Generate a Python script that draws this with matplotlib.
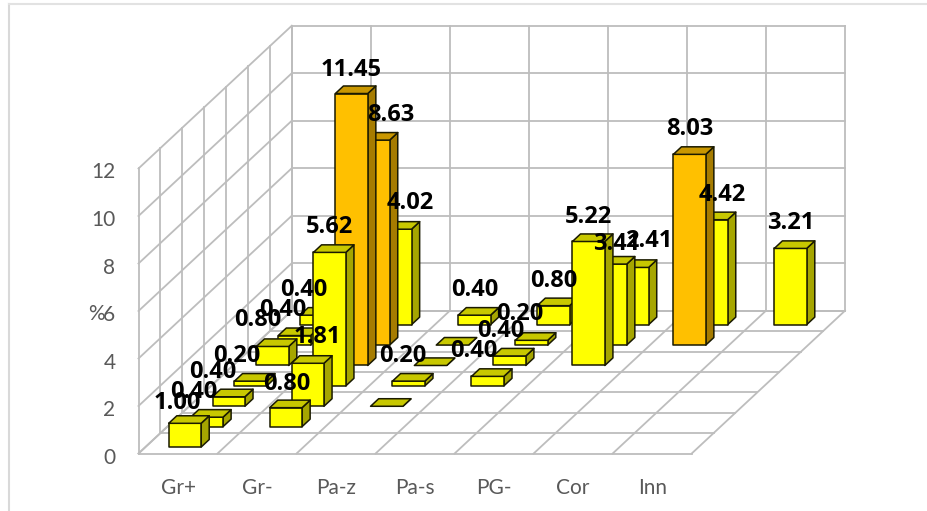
import matplotlib
matplotlib.use("Agg")
import matplotlib.pyplot as plt
from matplotlib.patches import Polygon

categories = ["Gr+", "Gr-", "Pa-z", "Pa-s", "PG-", "Cor", "Inn"]
yticks = [0, 2, 4, 6, 8, 10, 12]

# one list per depth row, front to back, None = no bar
row0 = [1.00, None, None, None, None, None, None]
row1 = [0.40, 0.80, None, None, None, None, None]
row2 = [0.40, 1.81, 0.00, None, None, None, None]
row3 = [0.20, 5.62, 0.20, 0.40, None, None, None]
row4 = [0.80, 11.45, 0.00, 0.40, 5.22, None, None]
row5 = [0.40, 8.63, 0.00, 0.20, 3.41, 8.03, None]
row6 = [0.40, 4.02, 0.40, 0.80, 2.41, 4.42, 3.21]
rows = [row0, row1, row2, row3, row4, row5, row6]

# label shift from the top of the front face, pixels (cat, row)
nudges = {
    (0, 0): (-8, 20), (0, 1): (-13, 25), (0, 2): (-16, 25), (0, 3): (-14, 25),
    (0, 4): (-15, 26), (0, 5): (-12, 26), (0, 6): (-13, 25),
    (1, 1): (1, 24), (1, 2): (10, 26), (1, 3): (0, 25), (1, 4): (0, 24),
    (1, 5): (17, 25), (1, 6): (15, 26),
    (2, 3): (-6, 25), (2, 6): (0, 25),
    (3, 3): (-14, 25), (3, 4): (-9, 25), (3, 5): (-12, 26), (3, 6): (0, 25),
    (4, 4): (0, 24), (4, 5): (6, 20), (4, 6): (16, 26),
    (5, 5): (0, 25), (5, 6): (11, 25),
    (6, 6): (0, 25),
}

W, H = 927, 511
ncat, nrow, vmax = 7, 7, 12

# oblique projection: depth 1 moves this far in x (categories) and y (%)
kx = 21.9 / 79.03
ky = 20.4 / 23.75


def proj(cat, depth, val):
    return cat + depth * kx, val + depth * ky


fig = plt.figure(figsize=(W / 100, H / 100), dpi=100)
ax = fig.add_axes([138.5 / W, (H - 453.5) / H, 553.2 / W, 285 / H])
ax.set_xlim(0, ncat)
ax.set_ylim(0, vmax)
ax.axis("off")

grid = "#bdbdbd"


def gridline(a, b):
    xa, ya = proj(*a)
    xb, yb = proj(*b)
    ax.plot([xa, xb], [ya, yb], color=grid, lw=1.3, clip_on=False, zorder=1,
            solid_capstyle="projecting")


for v in yticks:
    gridline((0, 0, v), (0, nrow, v))
    gridline((0, nrow, v), (ncat, nrow, v))
for d in range(nrow + 1):
    gridline((0, d, 0), (0, d, vmax))
    gridline((0, d, 0), (ncat, d, 0))
for c in range(ncat + 1):
    gridline((c, nrow, 0), (c, nrow, vmax))
    gridline((c, 0, 0), (c, nrow, 0))

bar_w = 0.41
bar_d = 0.37
z = 2


def face(pts, color):
    global z
    xy = [proj(*p) for p in pts]
    ax.add_patch(Polygon(xy, closed=True, facecolor=color, edgecolor="#1a1a00",
                         lw=1.1, clip_on=False, zorder=z, joinstyle="round"))
    z += 1


# back rows first so the front ones cover them
for r in range(nrow - 1, -1, -1):
    for c in range(ncat):
        v = rows[r][c]
        if v is None:
            continue
        if v >= 8:
            front, top, side = "#ffc000", "#c99700", "#a67c00"
        else:
            front, top, side = "#ffff00", "#c8c800", "#a6a600"
        x0 = c + (1 - bar_w) / 2
        x1 = x0 + bar_w
        d0 = r + (1 - bar_d) / 2
        d1 = d0 + bar_d
        face([(x1, d0, 0), (x1, d1, 0), (x1, d1, v), (x1, d0, v)], side)
        if v > 0:
            face([(x0, d0, 0), (x1, d0, 0), (x1, d0, v), (x0, d0, v)], front)
        face([(x0, d0, v), (x1, d0, v), (x1, d1, v), (x0, d1, v)], top)

for (c, r), (ox, oy) in nudges.items():
    v = rows[r][c]
    ax.annotate(f"{v:.2f}", proj(c + 0.5, r + (1 - bar_d) / 2, v),
                xytext=(ox, oy), textcoords="offset pixels", ha="center", va="center",
                family="Open Sans", fontweight="bold", fontsize=17, color="black",
                annotation_clip=False, zorder=500)

tick_color = "#595959"
for v in yticks:
    ax.annotate(str(v), (0, v), xytext=(-23, -4), textcoords="offset pixels",
                ha="right", va="center", family="Lato", fontsize=15, color=tick_color,
                annotation_clip=False)
for i, name in enumerate(categories):
    ax.annotate(name, (i + 0.5, 0), xytext=(0, -34), textcoords="offset pixels",
                ha="center", va="center", family="Lato", fontsize=15, color=tick_color,
                annotation_clip=False)
ax.annotate("%", (0, 6), xytext=(-42, -3), textcoords="offset pixels",
            ha="center", va="center", family="Lato", fontsize=15, color=tick_color,
            annotation_clip=False)

# chart frame, only the top and left edges show in the crop
fig.add_artist(plt.Line2D([8.5 / W, 8.5 / W], [0, 1 - 4.5 / H], color="#d9d9d9", lw=1.5))
fig.add_artist(plt.Line2D([8.5 / W, 1], [1 - 4.5 / H, 1 - 4.5 / H], color="#e2e2e2", lw=1.5))

fig.savefig("out.png", dpi=100)
